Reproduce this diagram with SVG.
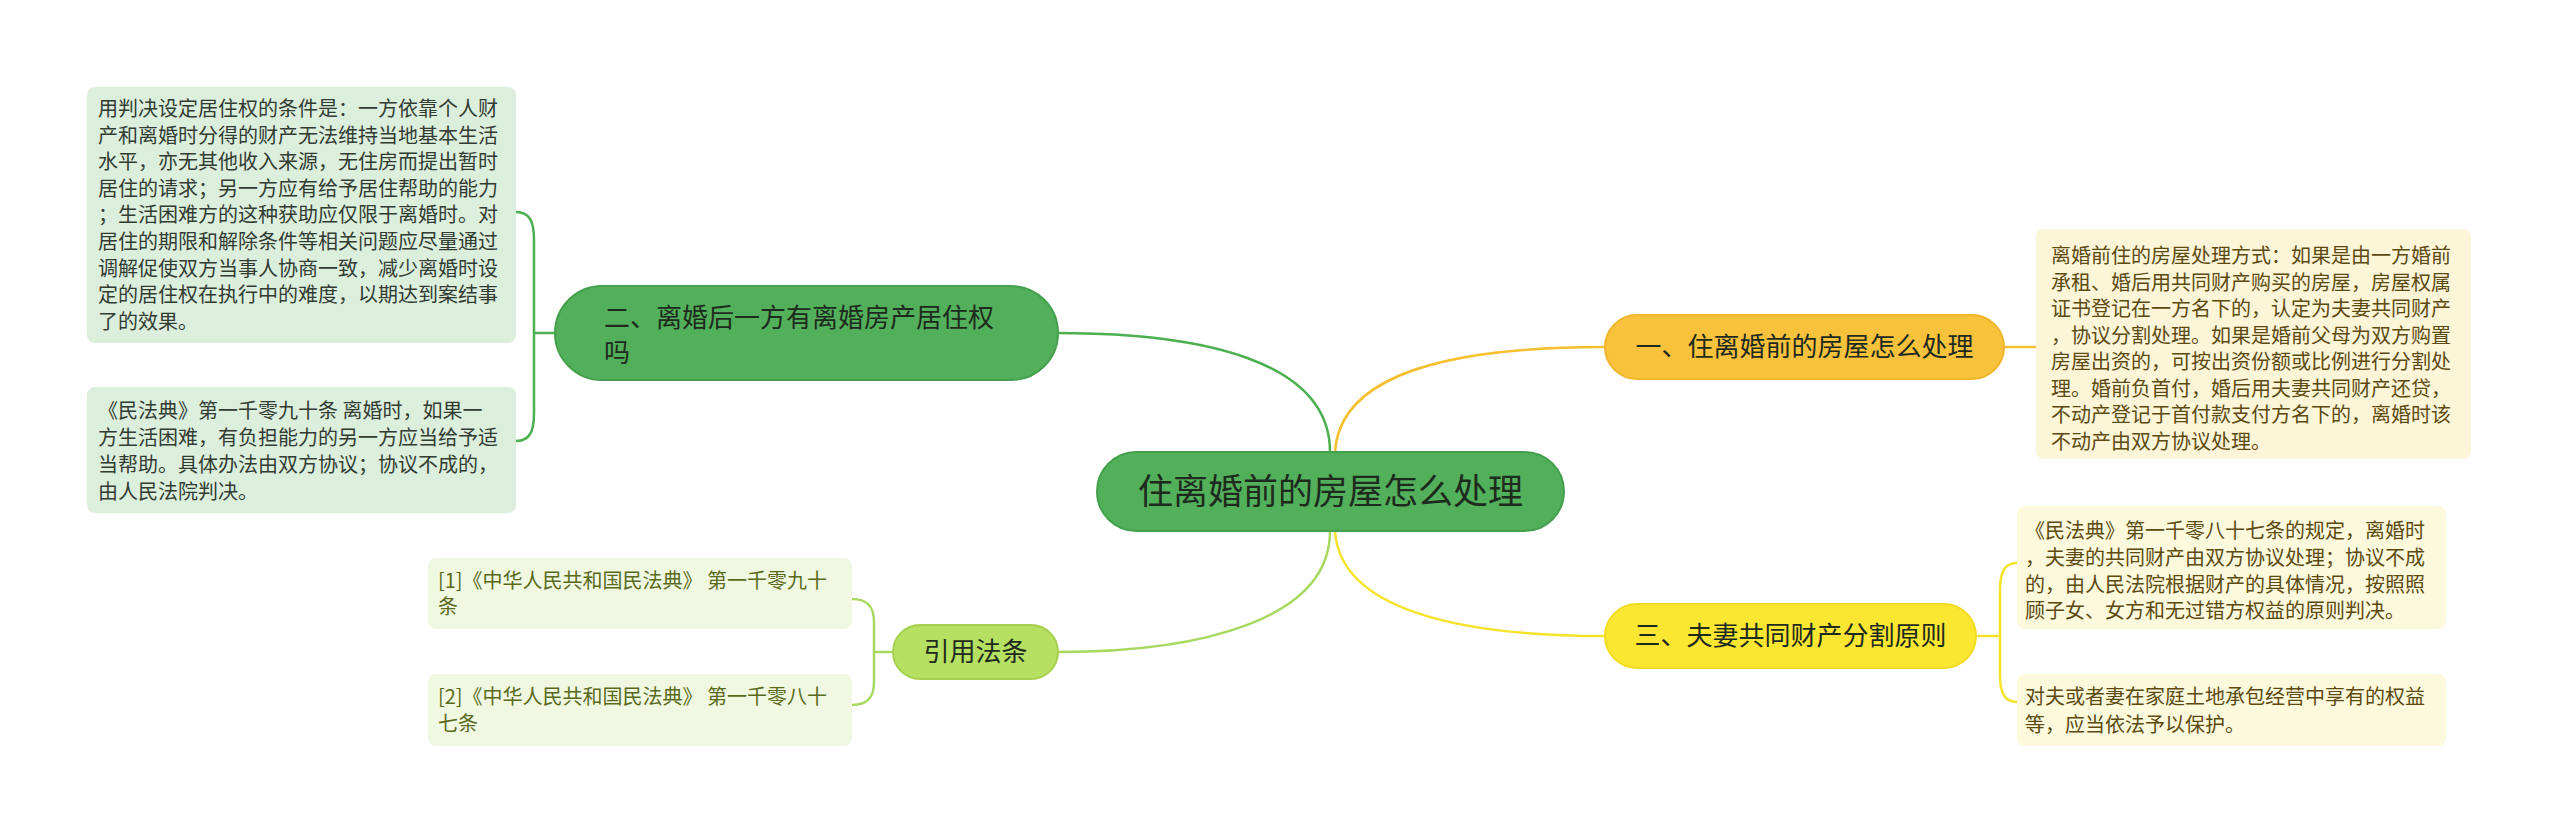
<svg xmlns="http://www.w3.org/2000/svg" width="2560" height="835" viewBox="0 0 2560 835">
<style>
text{font-family:"Noto Sans CJK SC","Liberation Sans",sans-serif;}
.n{font-size:26px;fill:#1e2a1e;}
.c{font-size:35px;fill:#1e2a1e;}
.t{font-size:20px;}
.lg{fill:#333c33;}
.yl{fill:#5c4a10;}
.ol{fill:#5a6a1a;}
.ln{fill:none;stroke-width:2.5;}
</style>
<rect width="2560" height="835" fill="#ffffff"/>
<g id="connectors">
<path class="ln" stroke="#4caf50" d="M1330,452 C1330,360 1200,333 1058,333"/>
<path class="ln" stroke="#a8d860" d="M1330,531 C1330,620 1200,652 1058,652"/>
<path class="ln" stroke="#f5c030" d="M1335,452 C1340,370 1460,347 1605,347"/>
<path class="ln" stroke="#f5e32a" d="M1335,531 C1340,610 1460,636 1605,636"/>
<path class="ln" stroke="#4caf50" d="M555,333 L534,333 M516,212 C530,212 534,222 534,240 L534,413 C534,431 530,441 516,441"/>
<path class="ln" stroke="#f5c030" d="M2004,347 L2036,347"/>
<path class="ln" stroke="#f5e32a" d="M1976,636 L2000,636 M2017,563 C2004,563 2000,573 2000,590 L2000,675 C2000,692 2004,702 2017,702"/>
<path class="ln" stroke="#a8d860" d="M893,652 L874,652 M852,599 C868,599 874,607 874,622 L874,682 C874,697 868,705 852,705"/>
</g>
<g id="center">
<rect x="1097" y="452" width="467" height="79" rx="39.5" fill="#52b05a" stroke="#45a04d" stroke-width="2"/>
<text class="c" x="1330.5" y="504" text-anchor="middle">住离婚前的房屋怎么处理</text>
</g>
<g id="node2">
<rect x="555" y="286" width="503" height="94" rx="47" fill="#52b05a" stroke="#45a04d" stroke-width="2"/>
<text class="n" x="604" y="327">二、离婚后一方有离婚房产居住权</text>
<text class="n" x="604" y="362">吗</text>
</g>
<g id="box2a">
<rect x="87" y="87" width="429" height="256" rx="8" fill="#dcefdd"/>
<text class="t lg" x="98" y="116">用判决设定居住权的条件是：一方依靠个人财</text>
<text class="t lg" x="98" y="142.6">产和离婚时分得的财产无法维持当地基本生活</text>
<text class="t lg" x="98" y="169.2">水平，亦无其他收入来源，无住房而提出暂时</text>
<text class="t lg" x="98" y="195.8">居住的请求；另一方应有给予居住帮助的能力</text>
<text class="t lg" x="98" y="222.4">；生活困难方的这种获助应仅限于离婚时。对</text>
<text class="t lg" x="98" y="249">居住的期限和解除条件等相关问题应尽量通过</text>
<text class="t lg" x="98" y="275.6">调解促使双方当事人协商一致，减少离婚时设</text>
<text class="t lg" x="98" y="302.2">定的居住权在执行中的难度，以期达到案结事</text>
<text class="t lg" x="98" y="328.8">了的效果。</text>
</g>
<g id="box2b">
<rect x="87" y="387" width="429" height="126" rx="8" fill="#dcefdd"/>
<text class="t lg" x="98" y="418">《民法典》第一千零九十条 离婚时，如果一</text>
<text class="t lg" x="98" y="445">方生活困难，有负担能力的另一方应当给予适</text>
<text class="t lg" x="98" y="472">当帮助。具体办法由双方协议；协议不成的，</text>
<text class="t lg" x="98" y="499">由人民法院判决。</text>
</g>
<g id="node1">
<rect x="1605" y="315" width="399" height="64" rx="32" fill="#f9c23c" stroke="#f0b52a" stroke-width="2"/>
<text class="n" x="1804.5" y="356" text-anchor="middle">一、住离婚前的房屋怎么处理</text>
</g>
<g id="box1">
<rect x="2036" y="229" width="435" height="230" rx="8" fill="#fdf5d8"/>
<text class="t yl" x="2051" y="263">离婚前住的房屋处理方式：如果是由一方婚前</text>
<text class="t yl" x="2051" y="289.5">承租、婚后用共同财产购买的房屋，房屋权属</text>
<text class="t yl" x="2051" y="316">证书登记在一方名下的，认定为夫妻共同财产</text>
<text class="t yl" x="2051" y="342.5">，协议分割处理。如果是婚前父母为双方购置</text>
<text class="t yl" x="2051" y="369">房屋出资的，可按出资份额或比例进行分割处</text>
<text class="t yl" x="2051" y="395.5">理。婚前负首付，婚后用夫妻共同财产还贷，</text>
<text class="t yl" x="2051" y="422">不动产登记于首付款支付方名下的，离婚时该</text>
<text class="t yl" x="2051" y="448.5">不动产由双方协议处理。</text>
</g>
<g id="node3">
<rect x="1605" y="604" width="371" height="64" rx="32" fill="#fbe732" stroke="#f0db20" stroke-width="2"/>
<text class="n" x="1790.5" y="645" text-anchor="middle">三、夫妻共同财产分割原则</text>
</g>
<g id="box3a">
<rect x="2017" y="506" width="429" height="123" rx="8" fill="#fdf9dc"/>
<text class="t yl" x="2025" y="538">《民法典》第一千零八十七条的规定，离婚时</text>
<text class="t yl" x="2025" y="565">，夫妻的共同财产由双方协议处理；协议不成</text>
<text class="t yl" x="2025" y="592">的，由人民法院根据财产的具体情况，按照照</text>
<text class="t yl" x="2025" y="618">顾子女、女方和无过错方权益的原则判决。</text>
</g>
<g id="box3b">
<rect x="2017" y="674" width="429" height="72" rx="8" fill="#fdf9dc"/>
<text class="t yl" x="2025" y="704">对夫或者妻在家庭土地承包经营中享有的权益</text>
<text class="t yl" x="2025" y="732">等，应当依法予以保护。</text>
</g>
<g id="cite">
<rect x="893" y="625" width="165" height="54" rx="27" fill="#b5e061" stroke="#a5d050" stroke-width="2"/>
<text class="n" x="975.5" y="661" text-anchor="middle">引用法条</text>
</g>
<g id="cite1">
<rect x="428" y="558" width="424" height="71" rx="8" fill="#f0f8e2"/>
<text class="t ol" x="438" y="588">[1]《中华人民共和国民法典》 第一千零九十</text>
<text class="t ol" x="438" y="614">条</text>
</g>
<g id="cite2">
<rect x="428" y="674" width="424" height="72" rx="8" fill="#f0f8e2"/>
<text class="t ol" x="438" y="704">[2]《中华人民共和国民法典》 第一千零八十</text>
<text class="t ol" x="438" y="731">七条</text>
</g>
</svg>
